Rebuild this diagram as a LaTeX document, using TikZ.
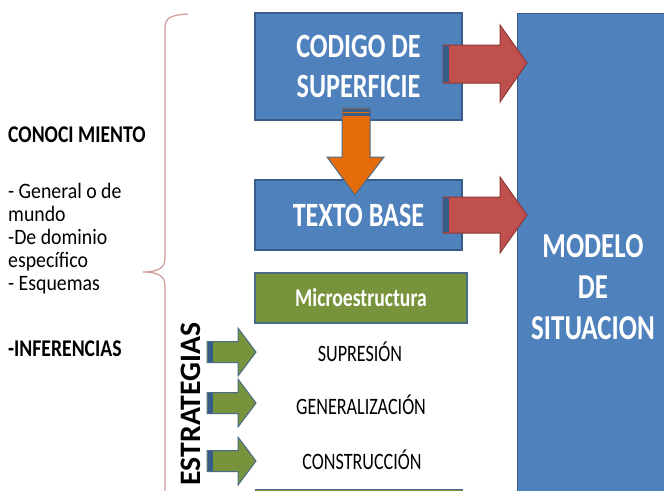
\documentclass[tikz,border=0pt]{standalone}
\usepackage{fontspec}
\setmainfont{Carlito}
\usetikzlibrary{calc}
\definecolor{bfill}{HTML}{4F81BD}
\definecolor{bline}{HTML}{385D8A}
\definecolor{rfill}{HTML}{C0504D}
\definecolor{rline}{HTML}{8C3836}
\definecolor{gfill}{HTML}{77933C}
\definecolor{gline}{HTML}{4A6B8A}
\definecolor{ofill}{HTML}{E46C0A}
\definecolor{brace}{HTML}{D09A98}
\newcommand{\nx}[1]{\scalebox{.77}[1]{#1}}
\newcommand{\lx}[1]{\scalebox{.9}[1]{#1}}
\tikzset{
  bluebox/.style={draw=bline, line width=1.2pt, fill=bfill, text=white, font=\bfseries\fontsize{34}{40}\selectfont, align=center, inner sep=0pt},
  greenbox/.style={draw=gline, line width=1.2pt, fill=gfill, text=white, font=\bfseries\fontsize{25.6}{30}\selectfont, inner sep=0pt},
  item/.style={text=black, font=\fontsize{23.5}{27}\selectfont, inner sep=0pt},
  lefttext/.style={text=black, font=\fontsize{22}{23}\selectfont, anchor=north west, align=left, inner sep=0pt},
  leftbold/.style={lefttext, font=\bfseries\fontsize{24}{23}\selectfont},
  redarrow/.style={draw=rline, line width=1pt, fill=rfill},
  greenarrow/.style={draw=gline, line width=1pt, fill=gfill},
  orangearrow/.style={draw=gline, line width=1pt, fill=ofill},
  stub/.style={fill=bline, draw=none}
}
\begin{document}
\begin{tikzpicture}[x=1pt,y=-1pt]
\useasboundingbox (0,0) rectangle (664,490);
\clip (0,0) rectangle (664,490);
\fill[white] (0,0) rectangle (664,490);
% boxes
\node[bluebox, minimum width=207pt, minimum height=107pt] (codigo) at (358.5,66.5) {\nx{CODIGO DE}\\\nx{SUPERFICIE}};
\node[bluebox, minimum width=207pt, minimum height=70pt] (texto) at (358.5,215) {\nx{TEXTO BASE}};
\node[greenbox, minimum width=212pt, minimum height=50pt] (micro) at (361,298) {\nx{Microestructura}};
\node[bluebox, minimum width=160pt, minimum height=500pt, anchor=north west] (modelo) at (517,13) {};
\node[text=white, font=\bfseries\fontsize{35}{41}\selectfont, align=center] (modelotxt) at (593,287) {\nx{MODELO}\\\nx{DE}\\\nx{SITUACION}};
\node[draw=gline, line width=1.2pt, fill=gfill, minimum width=207pt, minimum height=40pt, anchor=north west] (bottom) at (255,489) {};
% items
\node[item] (sup) at (360,352) {\nx{SUPRESIÓN}};
\node[item] (gen) at (361,405) {\nx{GENERALIZACIÓN}};
\node[item] (con) at (362,460) {\nx{CONSTRUCCIÓN}};
% red arrows
\draw[redarrow] (443,45) -- (500,45) -- (500,25) -- (527,63) -- (500,102) -- (500,83) -- (443,83) -- cycle;
\fill[stub] (443,46) rectangle (449,82);
\draw[redarrow] (443,197) -- (500,197) -- (500,177) -- (527,215) -- (500,253) -- (500,233) -- (443,233) -- cycle;
\fill[stub] (443,198) rectangle (449,232);
% orange arrow
\draw[orangearrow] (342,108) -- (370,108) -- (370,157) -- (384,157) -- (355,195) -- (327,157) -- (342,157) -- cycle;
\fill[stub] (342.5,108.5) rectangle (369.5,116);
\draw[ofill, line width=1pt] (343,112) -- (369,112);
% green arrows
\foreach \yc/\nm in {352/ga,403/gb,461/gc}{
  \draw[greenarrow] (207,\yc-10.5) -- (238,\yc-10.5) -- (238,\yc-24) -- (256,\yc) -- (238,\yc+24) -- (238,\yc+10.5) -- (207,\yc+10.5) -- cycle;
  \fill[stub] (207.5,\yc-10) rectangle (213,\yc+10);
}
% ESTRATEGIAS
\node[rotate=90, text=black, font=\bfseries\fontsize{29.7}{30}\selectfont, inner sep=0pt] (estr) at (191,404) {ESTRATEGIAS};
% brace
\draw[brace, line width=1.2pt] (188,14) .. controls (172,15) and (165,17) .. (165,28) -- (165,258) .. controls (165,268) and (158,272) .. (143,272) .. controls (158,272) and (165,276) .. (165,286) -- (165,495);
% left text
\node[leftbold] (conoc) at (8,127) {\scalebox{.82}[1]{CONOCI MIENTO}};
\node[lefttext] (list) at (8,183) {\lx{- General o de}\\\lx{mundo}\\\lx{-De dominio}\\\lx{específico}\\\lx{- Esquemas}};
\node[leftbold] (infer) at (8,341) {\scalebox{.82}[1]{-INFERENCIAS}};
\end{tikzpicture}
\end{document}
